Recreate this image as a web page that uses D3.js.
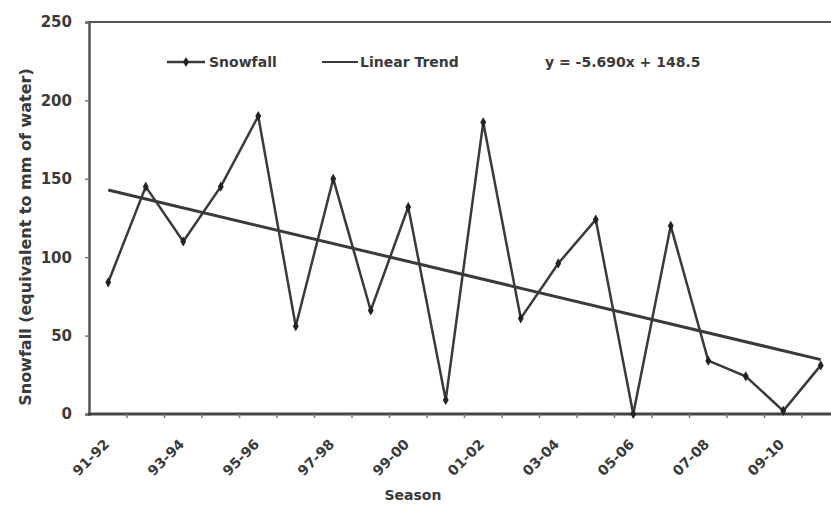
<!DOCTYPE html>
<html>
<head>
<meta charset="utf-8">
<script src="https://cdn.jsdelivr.net/npm/d3@7"></script>
<style>
  html, body { margin: 0; padding: 0; background: #fff; }
  svg { display: block; }
  text { font-family: "DejaVu Sans", sans-serif; font-weight: bold; fill: #3a3a3a; }
</style>
</head>
<body>
<svg id="chart" width="831" height="509"></svg>
<script>
// Seasonal snowfall (mm water equivalent)
const seasons = ["91-92","92-93","93-94","94-95","95-96","96-97","97-98","98-99","99-00","00-01",
                 "01-02","02-03","03-04","04-05","05-06","06-07","07-08","08-09","09-10","10-11"];
const snowfall = [84,145,110,145,190,56,150,66,132,9,186,61,96,124,0,120,34,24,2,31];
const seasonTickLabels = ["91-92","93-94","95-96","97-98","99-00","01-02","03-04","05-06","07-08","09-10"];
const valueTicks = [0,50,100,150,200,250];
const legendLabels = ["Snowfall","Linear Trend"];
// Linear trend coefficients (x = season index starting at 1)
const trendSlope = -5.690;
const trendIntercept = 148.5;
const trendLabel = "y = -5.690x + 148.5";
const xTitle = "Season";
const yTitle = "Snowfall (equivalent to mm of water)";

const svg = d3.select("#chart");
const ink = "#3a3a3a";

const x = d3.scaleBand().domain(seasons).range([89.5, 839.5]);
const y = d3.scaleLinear().domain([0, 250]).range([414, 22]);
const cx = d => x(d) + x.bandwidth() / 2;

// top frame line at the maximum of the value axis
svg.append("line")
  .attr("x1", 88).attr("x2", 831)
  .attr("y1", y(250)).attr("y2", y(250))
  .attr("stroke", "#555").attr("stroke-width", 2);

// y axis
const yAxis = svg.append("g").attr("transform", "translate(89,0)")
  .call(d3.axisLeft(y).tickValues(valueTicks).tickSize(4).tickPadding(13).tickFormat(d3.format("d")));
yAxis.select(".domain").attr("stroke", "#555").attr("stroke-width", 2.5);
yAxis.selectAll(".tick line").attr("stroke", "#777").attr("stroke-width", 1.5);
yAxis.selectAll(".tick text").attr("font-size", 15).attr("font-family", "DejaVu Sans").attr("font-weight", "bold").attr("fill", ink);

// x axis: line with tick marks at category boundaries
const xAxisG = svg.append("g");
xAxisG.append("line")
  .attr("x1", 88).attr("x2", 831).attr("y1", y(0)).attr("y2", y(0))
  .attr("stroke", "#444").attr("stroke-width", 3);
xAxisG.selectAll("line.tk").data(seasons.slice(1)).join("line")
  .attr("class", "tk")
  .attr("x1", d => x(d)).attr("x2", d => x(d))
  .attr("y1", y(0)).attr("y2", y(0) + 4)
  .attr("stroke", "#777").attr("stroke-width", 1.5);
xAxisG.selectAll("text").data(seasonTickLabels).join("text")
  .attr("text-anchor", "end")
  .attr("font-size", 14)
  .attr("fill", "#444")
  .attr("transform", d => `translate(${cx(d) + 2},${y(0) + 31}) rotate(-45)`)
  .text(d => d);

// axis titles
svg.append("text")
  .attr("x", 413).attr("y", 500)
  .attr("text-anchor", "middle").attr("font-size", 14).attr("fill", "#555")
  .text(xTitle);
svg.append("text")
  .attr("transform", "translate(31,237) rotate(-90)")
  .attr("text-anchor", "middle").attr("font-size", 16)
  .text(yTitle);

// linear trend
const trendPts = [seasons[0], seasons[seasons.length - 1]].map(s => {
  const i = seasons.indexOf(s) + 1;
  return [cx(s), y(trendSlope * i + trendIntercept)];
});
svg.append("path")
  .attr("d", d3.line()(trendPts))
  .attr("fill", "none").attr("stroke", ink).attr("stroke-width", 3);

// snowfall series
const line = d3.line().x((d, i) => cx(seasons[i])).y(d => y(d));
svg.append("path")
  .datum(snowfall)
  .attr("d", line)
  .attr("fill", "none").attr("stroke", ink).attr("stroke-width", 2.5)
  .attr("stroke-linejoin", "miter");
const marker = d3.symbol().type(d3.symbolDiamond).size(30);
svg.selectAll("path.pt").data(snowfall).join("path")
  .attr("class", "pt")
  .attr("transform", (d, i) => `translate(${cx(seasons[i])},${y(d)})`)
  .attr("d", marker)
  .attr("fill", "#222");

// legend
const lg = svg.append("g");
lg.append("line").attr("x1", 167).attr("x2", 205).attr("y1", 62).attr("y2", 62)
  .attr("stroke", ink).attr("stroke-width", 2.5);
lg.append("path").attr("transform", "translate(186,62)").attr("d", marker).attr("fill", "#222");
lg.append("text").attr("x", 209).attr("y", 67).attr("font-size", 14).text(legendLabels[0]);
lg.append("line").attr("x1", 322).attr("x2", 358).attr("y1", 62).attr("y2", 62)
  .attr("stroke", ink).attr("stroke-width", 2);
lg.append("text").attr("x", 360).attr("y", 67).attr("font-size", 14).text(legendLabels[1]);
lg.append("text").attr("x", 545).attr("y", 67).attr("font-size", 14).attr("fill", "#555").text(trendLabel);
</script>
</body>
</html>
